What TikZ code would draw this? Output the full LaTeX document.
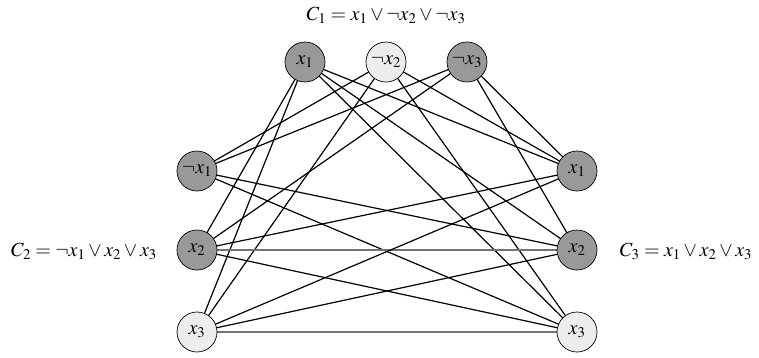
\documentclass[tikz,border=0pt]{standalone}
\usepackage{mathptmx}
\begin{document}
\begin{tikzpicture}[x=1pt,y=-1pt,
  lit/.style={circle,draw=black,line width=0.7pt,minimum size=40pt,inner sep=0pt,font=\fontsize{20}{24}\selectfont},
  dark/.style={lit,fill=black!40},
  light/.style={lit,fill=black!7},
  edge/.style={line width=1.2pt,black},
  hedge/.style={line width=1.2pt,black!55},
  lab/.style={font=\fontsize{20}{24}\selectfont,inner sep=0pt}]
\useasboundingbox (0,0) rectangle (759,357);
\coordinate (A1) at (305,62);
\coordinate (A2) at (386,62);
\coordinate (A3) at (467,62);
\coordinate (B1) at (197,171);
\coordinate (B2) at (197,250);
\coordinate (B3) at (197,332);
\coordinate (D1) at (577,171);
\coordinate (D2) at (577,250);
\coordinate (D3) at (577,332);
% C1-C2
\draw[edge] (A1) -- (B2);
\draw[edge] (A1) -- (B3);
\draw[edge] (A2) -- (B1);
\draw[edge] (A2) -- (B3);
\draw[edge] (A3) -- (B1);
\draw[edge] (A3) -- (B2);
% C1-C3
\draw[edge] (A1) -- (D1);
\draw[edge] (A1) -- (D2);
\draw[edge] (A1) -- (D3);
\draw[edge] (A2) -- (D1);
\draw[edge] (A2) -- (D3);
\draw[edge] (A3) -- (D1);
\draw[edge] (A3) -- (D2);
% C2-C3
\draw[edge] (B1) -- (D2);
\draw[edge] (B1) -- (D3);
\draw[edge] (B2) -- (D1);
\draw[hedge] (B2) -- (D2);
\draw[edge] (B2) -- (D3);
\draw[edge] (B3) -- (D1);
\draw[edge] (B3) -- (D2);
\draw[hedge] (B3) -- (D3);
% nodes
\node[dark]  (a1) at (A1) {$x_1$};
\node[light] (a2) at (A2) {$\neg x_2$};
\node[dark]  (a3) at (A3) {$\neg x_3$};
\node[dark]  (b1) at (B1) {$\neg x_1$};
\node[dark]  (b2) at (B2) {$x_2$};
\node[light] (b3) at (B3) {$x_3$};
\node[dark]  (d1) at (D1) {$x_1$};
\node[dark]  (d2) at (D2) {$x_2$};
\node[light] (d3) at (D3) {$x_3$};
% labels
\node[lab] (c1) at (386,15) {$C_1 = x_1 \vee \neg x_2 \vee \neg x_3$};
\node[lab] (c2) at (84,251) {$C_2 = \neg x_1 \vee x_2 \vee x_3$};
\node[lab] (c3) at (686,251) {$C_3 = x_1 \vee x_2 \vee x_3$};
\end{tikzpicture}
\end{document}
